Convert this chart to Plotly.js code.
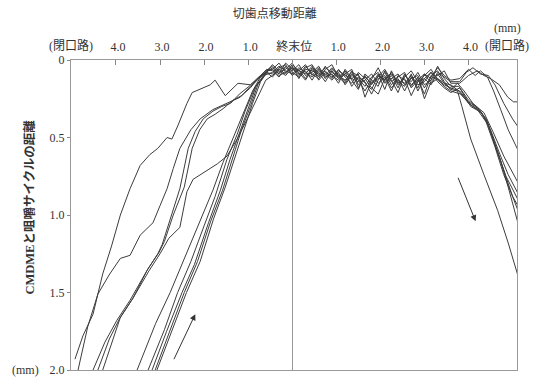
<!DOCTYPE html>
<html>
<head>
<meta charset="utf-8">
<script src="https://cdn.plot.ly/plotly-3.0.1.min.js"></script>
<style>html,body{margin:0;padding:0;background:#fff;}#chart{width:545px;height:379px;}</style>
</head>
<body>
<div id="chart"></div>
<script>
// x-axis tick values and labels (incisal point travel, mm)
const xTickVals = [-4, -3, -2, -1, 0, 1, 2, 3, 4];
const xTickText = ['4.0', '3.0', '2.0', '1.0', '終末位', '1.0', '2.0', '3.0', '4.0'];
const yTickVals = [0, 0.5, 1.0, 1.5, 2.0];
const yTickText = ['0', '0.5', '1.0', '1.5', '2.0'];

// shared x grid of the plateau near the terminal position
const plateauX = [-0.45,-0.3,-0.15,0,0.15,0.3,0.45,0.6,0.75,0.9,1.05,1.2,1.35,1.5,1.65,1.8,1.95,2.1,2.25,2.4,2.55,2.7,2.85,3.0,3.15,3.3,3.45,3.6];

// closing path (left) of each cycle
const close1X = [-4.93,-4.75,-4.52,-4.3,-4.1,-3.9,-3.68,-3.45,-3.23,-3.05,-2.84,-2.73,-2.59,-2.39,-2.27,-2.02,-1.86,-1.75,-1.59,-1.52,-1.23,-0.95,-0.73,-0.58];
const close1Y = [1.93,1.78,1.64,1.38,1.2,1.0,0.83,0.68,0.61,0.57,0.5,0.51,0.42,0.28,0.21,0.18,0.16,0.13,0.2,0.23,0.15,0.16,0.11,0.07];
const close2X = [-4.86,-4.64,-4.41,-4.14,-3.9,-3.68,-3.45,-3.16,-3.0,-2.84,-2.7,-2.55,-2.3,-2.09,-1.8,-1.64,-1.41,-1.18,-0.95,-0.8,-0.6];
const close2Y = [2.0,1.72,1.51,1.38,1.28,1.26,1.13,1.05,0.94,0.83,0.7,0.57,0.45,0.38,0.32,0.3,0.27,0.24,0.17,0.13,0.08];
const close3X = [-4.52,-4.25,-3.98,-3.68,-3.3,-3.05,-2.95,-2.77,-2.55,-2.36,-2.2,-2.02,-1.8,-1.6,-1.4,-1.2,-0.98,-0.8,-0.6];
const close3Y = [2.0,1.82,1.68,1.55,1.36,1.25,1.19,1.03,0.83,0.57,0.46,0.38,0.33,0.3,0.28,0.22,0.17,0.12,0.07];
const close4X = [-4.41,-4.15,-3.92,-3.62,-3.28,-3.02,-2.9,-2.7,-2.45,-2.27,-2.1,-1.93,-1.75,-1.55,-1.35,-1.15,-0.95,-0.75,-0.58];
const close4Y = [2.0,1.8,1.67,1.54,1.35,1.24,1.17,1.0,0.82,0.57,0.45,0.38,0.35,0.31,0.26,0.23,0.18,0.11,0.06];
const close5X = [-4.3,-3.9,-3.6,-3.25,-3.0,-2.8,-2.55,-2.39,-2.25,-2.09,-1.93,-1.7,-1.48,-1.25,-1.02,-0.8,-0.6];
const close5Y = [2.0,1.66,1.53,1.36,1.25,1.15,1.08,0.85,0.77,0.74,0.71,0.67,0.62,0.51,0.38,0.25,0.13];
const close6X = [-3.52,-3.1,-2.77,-2.43,-2.09,-1.8,-1.57,-1.34,-1.11,-0.9,-0.7];
const close6Y = [2.0,1.7,1.5,1.27,1.03,0.84,0.66,0.5,0.34,0.2,0.1];
const close7X = [-3.27,-2.9,-2.6,-2.3,-2.0,-1.75,-1.48,-1.25,-1.07,-0.85,-0.65];
const close7Y = [2.0,1.74,1.5,1.3,1.07,0.88,0.64,0.48,0.33,0.18,0.1];
const close8X = [-3.18,-2.85,-2.5,-2.22,-1.9,-1.63,-1.41,-1.2,-1.02,-0.82,-0.62];
const close8Y = [2.0,1.75,1.5,1.32,1.05,0.84,0.64,0.47,0.32,0.17,0.09];
const close9X = [-3.11,-2.8,-2.45,-2.15,-1.85,-1.58,-1.34,-1.15,-0.95,-0.78,-0.58];
const close9Y = [2.0,1.76,1.5,1.3,1.04,0.84,0.62,0.45,0.3,0.16,0.08];
const close10X = [-3.07,-2.75,-2.4,-2.09,-1.78,-1.52,-1.27,-1.08,-0.9,-0.72,-0.55];
const close10Y = [2.0,1.76,1.5,1.3,1.02,0.82,0.6,0.44,0.28,0.14,0.07];

// plateau values of each cycle
const plateau1Y = [0.06,0.02,0.08,0.05,0.10,0.04,0.09,0.12,0.06,0.03,0.11,0.15,0.09,0.13,0.20,0.12,0.05,0.14,0.10,0.18,0.09,0.16,0.12,0.22,0.10,0.07,0.14,0.19];
const plateau2Y = [0.09,0.05,0.03,0.10,0.06,0.12,0.05,0.08,0.14,0.07,0.12,0.08,0.17,0.11,0.14,0.22,0.13,0.08,0.16,0.12,0.20,0.11,0.18,0.09,0.15,0.12,0.17,0.20];
const plateau3Y = [0.04,0.08,0.06,0.02,0.09,0.07,0.13,0.06,0.10,0.05,0.09,0.14,0.07,0.18,0.10,0.16,0.09,0.19,0.07,0.15,0.12,0.23,0.14,0.10,0.06,0.13,0.16,0.18];
const plateau4Y = [0.07,0.11,0.04,0.07,0.03,0.10,0.08,0.04,0.11,0.09,0.15,0.06,0.12,0.09,0.24,0.14,0.11,0.06,0.13,0.21,0.10,0.14,0.08,0.16,0.13,0.04,0.12,0.17];
const plateau5Y = [0.10,0.06,0.09,0.04,0.12,0.05,0.03,0.10,0.07,0.12,0.06,0.11,0.15,0.08,0.12,0.18,0.22,0.12,0.09,0.14,0.17,0.09,0.20,0.12,0.08,0.14,0.18,0.21];
const plateau6Y = [0.05,0.09,0.02,0.06,0.08,0.13,0.06,0.11,0.04,0.10,0.13,0.09,0.06,0.16,0.13,0.09,0.15,0.11,0.20,0.10,0.13,0.17,0.11,0.25,0.14,0.09,0.15,0.16];
const plateau7Y = [0.08,0.04,0.07,0.09,0.05,0.08,0.11,0.07,0.09,0.13,0.08,0.16,0.10,0.12,0.17,0.11,0.08,0.15,0.12,0.09,0.16,0.12,0.10,0.18,0.11,0.05,0.10,0.13];
const plateau8Y = [0.03,0.07,0.10,0.05,0.07,0.03,0.10,0.05,0.12,0.06,0.10,0.13,0.08,0.10,0.15,0.19,0.10,0.13,0.08,0.16,0.11,0.07,0.14,0.12,0.16,0.08,0.11,0.14];
const plateau9Y = [0.11,0.06,0.05,0.08,0.11,0.06,0.07,0.09,0.05,0.08,0.11,0.07,0.13,0.19,0.09,0.13,0.17,0.07,0.14,0.11,0.08,0.18,0.13,0.09,0.12,0.10,0.07,0.15];
const plateau10Y = [0.06,0.10,0.08,0.03,0.07,0.09,0.04,0.13,0.08,0.11,0.07,0.10,0.12,0.14,0.11,0.15,0.12,0.10,0.18,0.13,0.15,0.10,0.16,0.14,0.08,0.12,0.15,0.19];

// opening path (right) of each cycle
const open1X = [3.75,3.85,4.05,4.35,4.66,4.9,5.12];
const open1Y = [0.2,0.3,0.51,0.74,0.97,1.18,1.39];
const open2X = [3.82,4.05,4.27,4.43,4.57,4.73,4.9,5.12];
const open2Y = [0.22,0.29,0.33,0.4,0.52,0.65,0.82,1.05];
const open3X = [3.8,4.0,4.2,4.4,4.6,4.8,5.0,5.12];
const open3Y = [0.2,0.27,0.31,0.38,0.55,0.72,0.88,0.97];
const open4X = [3.78,4.0,4.25,4.45,4.65,4.85,5.12];
const open4Y = [0.17,0.26,0.32,0.42,0.58,0.75,0.9];
const open5X = [3.8,4.05,4.3,4.5,4.7,4.9,5.12];
const open5Y = [0.18,0.3,0.34,0.45,0.6,0.74,0.86];
const open6X = [3.78,4.0,4.2,4.4,4.6,4.8,5.0,5.12];
const open6Y = [0.2,0.28,0.32,0.4,0.56,0.74,0.88,0.94];
const open7X = [3.8,4.0,4.15,4.27,4.43,4.57,4.73,4.9,5.12];
const open7Y = [0.12,0.06,0.1,0.07,0.11,0.2,0.32,0.45,0.58];
const open8X = [3.8,3.95,4.1,4.27,4.45,4.6,4.8,5.0,5.12];
const open8Y = [0.14,0.08,0.05,0.09,0.1,0.16,0.28,0.38,0.43];
const open9X = [3.8,4.0,4.2,4.35,4.5,4.7,4.89,5.02,5.12];
const open9Y = [0.15,0.1,0.07,0.1,0.12,0.16,0.24,0.27,0.27];
const open10X = [3.75,3.9,4.1,4.35,4.55,4.8,5.12];
const open10Y = [0.15,0.2,0.28,0.34,0.46,0.62,0.79];

const cycles = [
  [close1X, close1Y, plateau1Y, open1X, open1Y],
  [close2X, close2Y, plateau2Y, open2X, open2Y],
  [close3X, close3Y, plateau3Y, open3X, open3Y],
  [close4X, close4Y, plateau4Y, open4X, open4Y],
  [close5X, close5Y, plateau5Y, open5X, open5Y],
  [close6X, close6Y, plateau6Y, open6X, open6Y],
  [close7X, close7Y, plateau7Y, open7X, open7Y],
  [close8X, close8Y, plateau8Y, open8X, open8Y],
  [close9X, close9Y, plateau9Y, open9X, open9Y],
  [close10X, close10Y, plateau10Y, open10X, open10Y]
];

const traces = cycles.map(c => ({
  type: 'scatter',
  mode: 'lines',
  x: c[0].concat(plateauX, c[3]),
  y: c[1].concat(c[2], c[4]),
  line: {color: '#3c3c3c', width: 1},
  hoverinfo: 'skip',
  showlegend: false
}));

const serif = '"Liberation Serif", "Noto Sans CJK JP", serif';
const txt = '#333';

const layout = {
  width: 545, height: 379,
  margin: {l: 71, r: 28, t: 60, b: 9},
  paper_bgcolor: '#fff', plot_bgcolor: '#fff',
  showlegend: false,
  title: {text: '切歯点移動距離', font: {family: serif, size: 12, color: txt},
          xref: 'paper', x: 0.457, xanchor: 'center', yref: 'container', y: 0.964, yanchor: 'middle'},
  xaxis: {
    side: 'top', range: [-5.02, 5.1],
    tickmode: 'array', tickvals: xTickVals, ticktext: xTickText,
    ticks: 'inside', ticklen: 5, tickcolor: '#888', tickwidth: 1,
    ticklabelshift: 2, ticklabelstandoff: 3,
    tickfont: {family: serif, size: 12, color: txt},
    showline: true, mirror: true, linecolor: '#999', linewidth: 1,
    zeroline: true, zerolinecolor: '#999', zerolinewidth: 1,
    showgrid: false, fixedrange: true
  },
  yaxis: {
    range: [2.0, 0],
    tickmode: 'array', tickvals: yTickVals, ticktext: yTickText,
    ticks: 'outside', ticklen: 3, tickcolor: '#888',
    ticklabeloverflow: 'allow',
    tickfont: {family: serif, size: 12, color: txt},
    showline: true, mirror: true, linecolor: '#999', linewidth: 1,
    zeroline: false, showgrid: false, fixedrange: true
  },
  annotations: [
    {text: '<b>CMDMEと咀嚼サイクルの距離</b>', xref: 'paper', yref: 'paper', x: -0.092, y: 0.527, textangle: -90, xanchor: 'center', yanchor: 'middle', showarrow: false, font: {family: serif, size: 12.5, color: txt}},
    {text: '(閉口路)', xref: 'paper', yref: 'paper', x: 0.0, y: 1.048, xanchor: 'center', yanchor: 'middle', showarrow: false, font: {family: serif, size: 12, color: txt}},
    {text: '(開口路)', xref: 'paper', yref: 'paper', x: 0.978, y: 1.048, xanchor: 'center', yanchor: 'middle', showarrow: false, font: {family: serif, size: 12, color: txt}},
    {text: '(mm)', xref: 'paper', yref: 'paper', x: 0.978, y: 1.103, xanchor: 'center', yanchor: 'middle', showarrow: false, font: {family: serif, size: 12, color: txt}},
    {text: '(mm)', xref: 'paper', yref: 'paper', x: -0.103, y: 0.0, xanchor: 'center', yanchor: 'middle', showarrow: false, font: {family: serif, size: 12, color: txt}},
    {text: '', x: -2.2, y: 1.64, ax: -2.7, ay: 1.94, xref: 'x', yref: 'y', axref: 'x', ayref: 'y', showarrow: true, arrowhead: 2, arrowsize: 1.2, arrowwidth: 1, arrowcolor: '#333'},
    {text: '', x: 4.16, y: 1.04, ax: 3.75, ay: 0.75, xref: 'x', yref: 'y', axref: 'x', ayref: 'y', showarrow: true, arrowhead: 2, arrowsize: 1.2, arrowwidth: 1, arrowcolor: '#333'}
  ]
};

Plotly.newPlot('chart', traces, layout, {displayModeBar: false, staticPlot: true});
</script>
</body>
</html>
